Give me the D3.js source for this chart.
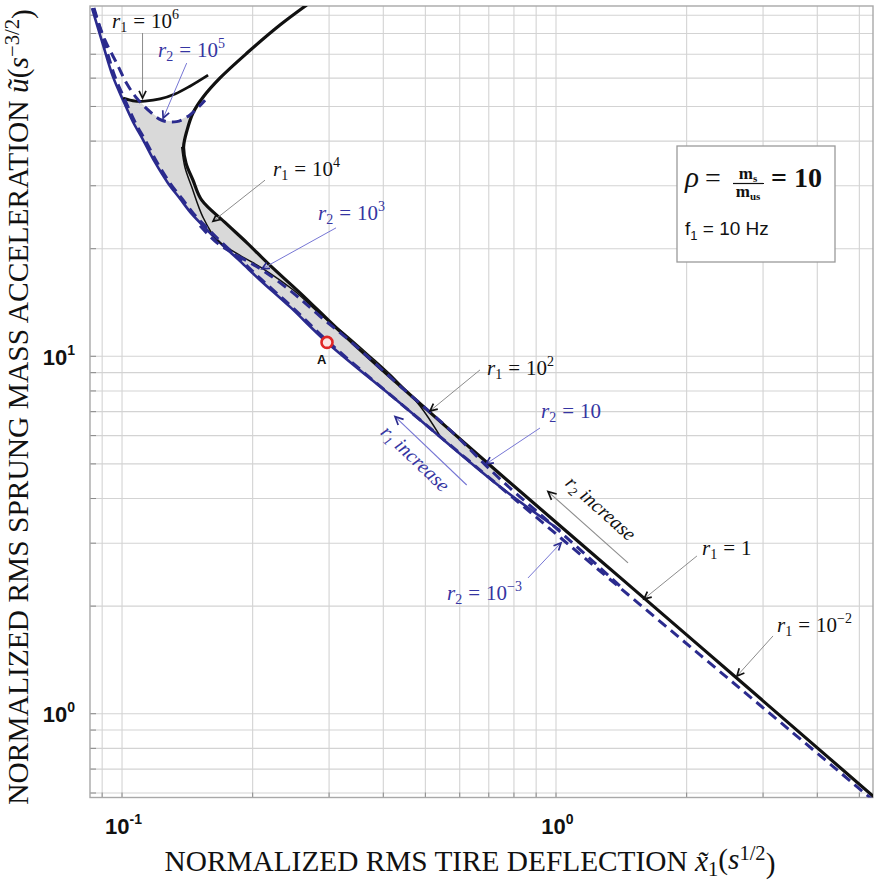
<!DOCTYPE html>
<html>
<head>
<meta charset="utf-8">
<script src="https://cdn.jsdelivr.net/npm/d3@7"></script>
<style>
  body { margin: 0; background: #fff; }
  svg { display: block; }
</style>
</head>
<body>
<svg id="chart" width="874" height="889"></svg>
<script>
// ---- data (x: normalized RMS tire deflection, y: normalized RMS sprung mass acceleration) ----

// optimal front (blue solid)
const envelope = [[0.0855,93.96],[0.0907,74.0],[0.0956,60.3],[0.1008,51.9],[0.1063,45.1],[0.1121,40.2],[0.1194,34.8],[0.1280,30.4],[0.1364,27.5],[0.1453,24.9],[0.1558,22.8],[0.1687,20.7],[0.1875,18.4],[0.2084,16.3],[0.2445,13.7],[0.2975,10.9],[0.4382,7.38],[0.7451,4.30],[1.0242,3.25]];

// constant r2 = 1e-3 (blue dashed, runs along the front)
const curveR2em3 = [[0.0864,93.96],[0.0917,74.0],[0.0966,60.3],[0.1019,51.9],[0.1074,45.1],[0.1133,40.2],[0.1207,34.8],[0.1294,30.4],[0.1379,27.5],[0.1469,24.9],[0.1575,22.8],[0.1705,20.7],[0.1895,18.4],[0.2106,16.3],[0.2471,13.7],[0.3007,10.9],[0.4382,7.38],[0.7451,4.30],[1.2663,2.50],[2.1527,1.456],[3.4155,0.910],[5.42,0.568]];

// constant r2 = 1e5 (blue dashed)
const curveR2e5 = [[0.0861,93.8],[0.0916,76.4],[0.0975,65.8],[0.1028,57.8],[0.1084,52.6],[0.1163,48.2],[0.1238,45.6],[0.1340,45.2],[0.1438,47.2],[0.1558,51.9]];

// constant r2 = 1e3 .. 10 (blue dashed)
const curveR2e3 = [[0.1517,23.1],[0.1660,20.7],[0.1875,18.9],[0.2107,17.4],[0.2484,15.0],[0.2867,12.9],[0.3361,11.0],[0.4382,8.23],[0.5714,6.20],[0.7451,4.52],[1.0242,3.22],[1.408,2.27]];

// constant r1 = 1e6 (black)
const curveR1e6 = [[0.1008,52.6],[0.1074,51.6],[0.1132,51.6],[0.1227,52.3],[0.1328,54.0],[0.1438,56.8],[0.1583,61.0]];

// outer black boundary (r1 = 1e4 ... 1e-2 merge along the diagonal)
const curveR1Outer = [[0.2672,95.8],[0.2318,84.2],[0.1946,70.3],[0.1687,59.9],[0.1541,52.9],[0.1461,47.8],[0.1416,42.8],[0.1390,38.4],[0.1408,34.6],[0.1461,31.0],[0.1529,27.3],[0.1739,23.5],[0.1946,20.7],[0.2199,17.9],[0.2578,15.0],[0.3188,11.7],[0.3941,9.24],[0.7451,4.67],[1.2663,2.68],[2.1527,1.538],[3.659,0.881],[5.42,0.583]];

// inner black curve (r1 = 1e2)
const curveR1Inner = [[0.1376,38.4],[0.1400,33.7],[0.1451,29.7],[0.1541,24.4],[0.1660,21.1],[0.1875,19.1],[0.2107,17.6],[0.2484,15.3],[0.2867,13.1],[0.3273,11.51],[0.3737,9.99],[0.4268,8.61],[0.4873,7.24],[0.5418,5.97]];

// marked design point
const pointA = [0.2975, 10.9];
const pointALabel = [0.2892, 9.49];

// grid / tick values
const xGrid = [0.09,0.1,0.2,0.3,0.4,0.5,0.6,0.7,0.8,0.9,1,2,3,4,5];
const yGrid = [0.6,0.7,0.8,0.9,1,2,3,4,5,6,7,8,9,10,20,30,40,50,60,70,80,90];
const xTickLabels = [{v:0.1, exp:"-1"}, {v:1, exp:"0"}];
const yTickLabels = [{v:1, exp:"0"}, {v:10, exp:"1"}];

// curve annotations: label anchor, leader start, arrow tip (data units)
const annotations = [
  {idx:"1", base:"10", exp:"6",  blue:false, at:[0.0951,82.6], from:[0.1118,80.0], tip:[0.1118,52.6]},
  {idx:"2", base:"10", exp:"5",  blue:true,  at:[0.1214,68.5], from:[0.1413,65.9], tip:[0.1247,46.2]},
  {idx:"1", base:"10", exp:"4",  blue:false, at:[0.2234,31.8], from:[0.2141,31.0], tip:[0.1625,23.8]},
  {idx:"2", base:"10", exp:"3",  blue:true,  at:[0.2836,24.0], from:[0.3121,22.8], tip:[0.2107,17.5]},
  {idx:"1", base:"10", exp:"2",  blue:false, at:[0.6953,8.84], from:[0.6699,9.13], tip:[0.5139,7.01]},
  {idx:"2", base:"10", exp:"",   blue:true,  at:[0.926,6.70],  from:[0.921,6.28],  tip:[0.6915,4.98]},
  {idx:"1", base:"1",  exp:"",   blue:false, at:[2.176,2.77],  from:[2.118,2.754], tip:[1.599,2.088]},
  {idx:"1", base:"10", exp:"\u22122", blue:false, at:[3.238,1.688], from:[3.171,1.645], tip:[2.619,1.271]},
  {idx:"2", base:"10", exp:"\u22123", blue:true,  at:[0.5623,2.074], from:[0.8642,2.390], tip:[1.0296,2.995]}
];

// direction-of-increase arrows
const trendArrows = [
  {idx:"1", blue:true,  from:[0.6243,4.35], tip:[0.4268,6.76], center:[0.4640,5.005]},
  {idx:"2", blue:false, from:[1.469,2.633], tip:[0.9610,4.17], center:[1.243,3.626]}
];

// ---- layout ----
const W = 874, H = 889;
const plot = {left: 90, right: 873, top: 6, bottom: 797.5};
const x = d3.scaleLog().domain([0.0846, 5.39]).range([plot.left, plot.right]);
const y = d3.scaleLog().domain([0.581, 95.2]).range([plot.bottom, plot.top]);

const BLUE = "#2b2b8e";
const BLUE_TEXT = "#3535a2";
const BLUE_LEADER = "#7676d4";
const BLACK = "#111";
const SERIF = "'Liberation Serif', 'Times New Roman', serif";
const SANS = "'Liberation Sans', Arial, sans-serif";

const svg = d3.select("#chart");
svg.append("rect").attr("width", W).attr("height", H).attr("fill", "#fff");
svg.append("defs").append("clipPath").attr("id", "plotClip")
  .append("rect").attr("x", plot.left).attr("y", plot.top)
  .attr("width", plot.right - plot.left).attr("height", plot.bottom - plot.top);

// grid lines through the axes
const gx = svg.append("g").attr("transform", `translate(0,${plot.bottom})`)
  .call(d3.axisBottom(x).tickValues(xGrid).tickSize(-(plot.bottom - plot.top)).tickFormat(""));
const gy = svg.append("g").attr("transform", `translate(${plot.left},0)`)
  .call(d3.axisLeft(y).tickValues(yGrid).tickSize(-(plot.right - plot.left)).tickFormat(""));
[gx, gy].forEach(g => {
  g.select(".domain").remove();
  g.selectAll(".tick line").attr("stroke", "#d3d3d3").attr("stroke-width", 1.1);
});
// short inner ticks
const tx = svg.append("g").attr("transform", `translate(0,${plot.bottom})`)
  .call(d3.axisBottom(x).tickValues(xGrid).tickSize(-5).tickFormat(""));
const ty = svg.append("g").attr("transform", `translate(${plot.left},0)`)
  .call(d3.axisLeft(y).tickValues(yGrid).tickSize(-6).tickFormat(""));
[tx, ty].forEach(g => {
  g.select(".domain").remove();
  g.selectAll(".tick line").attr("stroke", "#8a8a8a").attr("stroke-width", 1);
});

// frame
svg.append("rect").attr("x", plot.left).attr("y", plot.top)
  .attr("width", plot.right - plot.left).attr("height", plot.bottom - plot.top)
  .attr("fill", "none").attr("stroke", "#a8a8a8").attr("stroke-width", 1.4);

// tick labels
xTickLabels.forEach(d => {
  const t = svg.append("text").attr("x", x(d.v) + 2).attr("y", 834)
    .attr("text-anchor", "middle").attr("font-family", SANS).attr("font-weight", "bold")
    .attr("font-size", 22).attr("fill", "#111");
  t.append("tspan").text("10");
  t.append("tspan").attr("font-size", 14).attr("dy", -10).text(d.exp);
});
yTickLabels.forEach(d => {
  const t = svg.append("text").attr("x", 75).attr("y", y(d.v) + 9)
    .attr("text-anchor", "end").attr("font-family", SANS).attr("font-weight", "bold")
    .attr("font-size", 22).attr("fill", "#111");
  t.append("tspan").text("10");
  t.append("tspan").attr("font-size", 14).attr("dy", -10).text(d.exp);
});

// ---- curves ----
const line = d3.line().x(d => x(d[0])).y(d => y(d[1])).curve(d3.curveCatmullRom.alpha(0.5));
const area = d3.line().x(d => x(d[0])).y(d => y(d[1])).curve(d3.curveLinearClosed);
const plotG = svg.append("g").attr("clip-path", "url(#plotClip)");

// feasible region (shaded)
const shade = [].concat(curveR2e5.slice(4), curveR1Outer.slice(5, 18), envelope.slice(3, 18).reverse());
plotG.append("path").attr("d", area(shade)).attr("fill", "#d9d9d9").attr("stroke", "none");

plotG.append("path").attr("d", line(envelope)).attr("fill", "none")
  .attr("stroke", BLUE).attr("stroke-width", 2.6);

[[curveR1Outer, 3.2], [curveR1Inner, 1.5], [curveR1e6, 2.8]].forEach(([c, w]) => {
  plotG.append("path").attr("d", line(c)).attr("fill", "none")
    .attr("stroke", BLACK).attr("stroke-width", w).attr("stroke-linejoin", "round");
});

[curveR2em3, curveR2e5, curveR2e3].forEach(c => {
  plotG.append("path").attr("d", line(c)).attr("fill", "none")
    .attr("stroke", BLUE).attr("stroke-width", 3).attr("stroke-dasharray", "10,6");
});

// ---- annotations ----
const ann = svg.append("g");

function chevron(tip, from, color, size) {
  const ang = Math.atan2(from[1] - tip[1], from[0] - tip[0]);
  const a1 = ang + 0.45, a2 = ang - 0.45;
  ann.append("path")
    .attr("d", `M${tip[0] + size * Math.cos(a1)},${tip[1] + size * Math.sin(a1)}L${tip[0]},${tip[1]}L${tip[0] + size * Math.cos(a2)},${tip[1] + size * Math.sin(a2)}`)
    .attr("fill", "none").attr("stroke", color).attr("stroke-width", 1.7);
}

annotations.forEach(a => {
  const f = [x(a.from[0]), y(a.from[1])];
  const t = [x(a.tip[0]), y(a.tip[1])];
  ann.append("line").attr("x1", f[0]).attr("y1", f[1]).attr("x2", t[0]).attr("y2", t[1])
    .attr("stroke", a.blue ? BLUE_LEADER : "#8c8c8c").attr("stroke-width", 1);
  chevron(t, f, a.blue ? BLUE : BLACK, 8);
  const txt = ann.append("text").attr("x", x(a.at[0])).attr("y", y(a.at[1]))
    .attr("font-family", SERIF).attr("font-size", 21).attr("fill", a.blue ? BLUE_TEXT : BLACK);
  txt.append("tspan").attr("font-style", "italic").text("r");
  txt.append("tspan").attr("font-size", 14).attr("dy", 4).text(a.idx);
  txt.append("tspan").attr("dy", -4).attr("dx", 6).text("=");
  txt.append("tspan").attr("dx", 6).text(a.base);
  if (a.exp) txt.append("tspan").attr("font-size", 14).attr("dy", -9).text(a.exp);
});

trendArrows.forEach(a => {
  const f = [x(a.from[0]), y(a.from[1])];
  const t = [x(a.tip[0]), y(a.tip[1])];
  const color = a.blue ? BLUE_LEADER : "#8c8c8c";
  ann.append("line").attr("x1", f[0]).attr("y1", f[1]).attr("x2", t[0]).attr("y2", t[1])
    .attr("stroke", color).attr("stroke-width", 1.1);
  chevron(t, f, a.blue ? BLUE : BLACK, 9);
  const angle = Math.atan2(f[1] - t[1], f[0] - t[0]) * 180 / Math.PI;
  const txt = ann.append("text")
    .attr("transform", `translate(${x(a.center[0])},${y(a.center[1])}) rotate(${angle})`)
    .attr("text-anchor", "middle").attr("font-family", SERIF).attr("font-style", "italic")
    .attr("font-size", 20).attr("fill", a.blue ? BLUE_TEXT : BLACK);
  txt.append("tspan").text("r");
  txt.append("tspan").attr("font-size", 13).attr("dy", 4).text(a.idx);
  txt.append("tspan").attr("dy", -4).text(" increase");
});

// design point A
ann.append("circle").attr("cx", x(pointA[0])).attr("cy", y(pointA[1])).attr("r", 5.5)
  .attr("fill", "#fbe3e3").attr("stroke", "#e02525").attr("stroke-width", 2.6);
ann.append("text").attr("x", x(pointALabel[0])).attr("y", y(pointALabel[1]))
  .attr("text-anchor", "middle").attr("font-family", SANS).attr("font-weight", "bold")
  .attr("font-size", 13).attr("fill", "#111").text("A");

// ---- parameter box ----
const box = svg.append("g");
box.append("rect").attr("x", 677).attr("y", 146).attr("width", 158).attr("height", 116)
  .attr("fill", "#fff").attr("stroke", "#9a9a9a").attr("stroke-width", 1.3);
box.append("text").attr("x", 685).attr("y", 187).attr("font-family", SERIF)
  .attr("font-size", 29).attr("font-style", "italic").attr("fill", "#111").text("\u03c1");
box.append("text").attr("x", 705).attr("y", 187).attr("font-family", SERIF)
  .attr("font-size", 28).attr("fill", "#111").text("=");
box.append("text").attr("x", 748).attr("y", 179).attr("text-anchor", "middle").attr("font-family", SERIF)
  .attr("font-weight", "bold").attr("font-size", 17).attr("fill", "#111").text("m")
  .append("tspan").attr("font-size", 11).attr("dy", 3).text("s");
box.append("line").attr("x1", 733).attr("x2", 764).attr("y1", 183.5).attr("y2", 183.5)
  .attr("stroke", "#111").attr("stroke-width", 1.2);
box.append("text").attr("x", 748).attr("y", 197).attr("text-anchor", "middle").attr("font-family", SERIF)
  .attr("font-weight", "bold").attr("font-size", 17).attr("fill", "#111").text("m")
  .append("tspan").attr("font-size", 11).attr("dy", 3).text("us");
box.append("text").attr("x", 771).attr("y", 187).attr("font-family", SERIF)
  .attr("font-weight", "bold").attr("font-size", 28).attr("fill", "#111").text("= 10");
const f1 = box.append("text").attr("x", 685).attr("y", 235).attr("font-family", SANS)
  .attr("font-size", 19).attr("fill", "#111");
f1.append("tspan").text("f");
f1.append("tspan").attr("font-size", 13).attr("dy", 5).text("1");
f1.append("tspan").attr("dy", -5).text(" = 10 Hz");

// ---- axis titles ----
function fitLength(sel, target) {
  const len = sel.node().getComputedTextLength();
  sel.attr("font-size", +sel.attr("font-size") * target / len);
}

const xt = svg.append("text").attr("x", 470).attr("y", 871).attr("text-anchor", "middle")
  .attr("font-family", SERIF).attr("font-size", 26).attr("fill", "#111");
xt.append("tspan").text("NORMALIZED RMS TIRE DEFLECTION ");
xt.append("tspan").attr("font-style", "italic").text("x\u0303");
xt.append("tspan").attr("font-size", "0.7em").attr("dy", "0.25em").text("1");
xt.append("tspan").attr("dy", "-0.25em").text("(");
xt.append("tspan").attr("font-style", "italic").text("s");
xt.append("tspan").attr("font-size", "0.7em").attr("dy", "-0.45em").text("1/2");
xt.append("tspan").attr("dy", "0.45em").text(")");
fitLength(xt, 611);

const yt = svg.append("text").attr("transform", "translate(28,407) rotate(-90)").attr("text-anchor", "middle")
  .attr("font-family", SERIF).attr("font-size", 26).attr("fill", "#111");
yt.append("tspan").text("NORMALIZED RMS SPRUNG MASS ACCELERATION ");
yt.append("tspan").attr("font-style", "italic").text("\u0169");
yt.append("tspan").text("(");
yt.append("tspan").attr("font-style", "italic").text("s");
yt.append("tspan").attr("font-size", "0.7em").attr("dy", "-0.45em").text("\u22123/2");
yt.append("tspan").attr("dy", "0.45em").text(")");
fitLength(yt, 796);
</script>
</body>
</html>
